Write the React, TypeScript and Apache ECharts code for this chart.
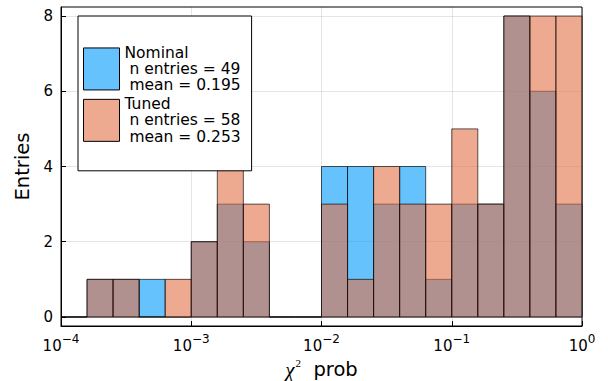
import React, { useEffect, useRef } from "react";
import * as echarts from "echarts";

// log10 bin edges (5 bins per decade, 1e-4 .. 1)
const binEdges = [-4, -3.8, -3.6, -3.4, -3.2, -3, -2.8, -2.6, -2.4, -2.2, -2, -1.8, -1.6, -1.4, -1.2, -1, -0.8, -0.6, -0.4, -0.2, 0];
const nominalCounts = [0, 1, 1, 1, 0, 2, 3, 2, 0, 0, 4, 4, 3, 4, 1, 3, 3, 8, 6, 3];
const tunedCounts = [0, 1, 1, 0, 1, 2, 4, 3, 0, 0, 3, 1, 4, 3, 3, 5, 3, 8, 8, 8];
const seriesNames = ["Nominal", "Tuned"];
const nEntries = [49, 58];
const means = ["0.195", "0.253"];
const xTicks = [-4, -3, -2, -1, 0];
const yTicks = [0, 2, 4, 6, 8];

const FONT = "DejaVu Sans";
const SERIF = "Liberation Serif";
const fills = ["rgba(0,154,250,0.6)", "rgba(227,111,71,0.6)"];

function toData(counts: number[]) {
  return counts.map((c, i) => [binEdges[i], binEdges[i + 1], c]);
}

export default function App() {
  const ref = useRef<HTMLDivElement>(null);
  useEffect(() => {
    if (!ref.current) return;
    const chart = echarts.init(ref.current, undefined, { renderer: "svg" });
    const renderItem = (fill: string) => (params: any, api: any) => {
      const p0 = api.coord([api.value(0), 0]);
      const p1 = api.coord([api.value(1), api.value(2)]);
      return {
        type: "rect",
        shape: { x: p0[0], y: p1[1], width: p1[0] - p0[0], height: p0[1] - p1[1] },
        style: { fill, stroke: "rgba(0,0,0,0.65)", lineWidth: 1 },
      };
    };
    const option: any = {
      animation: false,
      grid: {
        left: 61, top: 7, width: 521, height: 319,
        outerBoundsMode: "none", containLabel: false,
        show: true, borderColor: "#000", borderWidth: 1, backgroundColor: "transparent",
      },
      legend: {
        show: true, orient: "vertical", left: 78, top: 16,
        backgroundColor: "#fff", borderColor: "#000", borderWidth: 1,
        borderRadius: 0,
        padding: [28.5, 11, 26, 5], itemWidth: 36, itemHeight: 42, itemGap: 2.5,
        icon: "rect",
        textStyle: { fontSize: 15.5, lineHeight: 16.3, color: "#000", fontFamily: FONT },
        formatter: (name: string) => {
          const i = seriesNames.indexOf(name);
          return `${name}\n n entries = ${nEntries[i]}\n mean = ${means[i]}`;
        },
        data: seriesNames.map((n, i) => ({
          name: n,
          itemStyle: { color: fills[i], borderColor: "#000", borderWidth: 1 },
        })),
      },
      xAxis: {
        type: "value", min: xTicks[0], max: xTicks[xTicks.length - 1], interval: 1,
        axisLine: { show: true, onZero: false, lineStyle: { color: "#000", width: 1 } },
        axisTick: { show: true, inside: true, length: 5, lineStyle: { color: "#000" } },
        splitLine: { show: true, lineStyle: { color: "rgba(0,0,0,0.1)", width: 1 } },
        axisLabel: {
          margin: 7,
          formatter: (v: number) => `{b|10}{s|${v === 0 ? "0" : "−" + -v}}`,
          rich: {
            b: { fontSize: 15, fontFamily: FONT, color: "#000", padding: [5, 0, 0, 0] },
            s: { fontSize: 12, fontFamily: FONT, color: "#000", verticalAlign: "top" },
          },
        },
        name: "{c|χ}{s|2}{t|  prob}",
        nameLocation: "middle", nameGap: 28,
        nameTextStyle: {
          rich: {
            c: { fontSize: 21, fontFamily: SERIF, fontStyle: "italic", color: "#000", padding: [2, 1, 0, 0] },
            s: { fontSize: 11, fontFamily: SERIF, color: "#000", verticalAlign: "top" },
            t: { fontSize: 19.5, fontFamily: FONT, color: "#000" },
          },
        },
      },
      yAxis: {
        type: "value", min: -0.24, max: 8.24,
        axisLine: { show: true, onZero: false, lineStyle: { color: "#000", width: 1 } },
        axisTick: { show: true, inside: true, length: 5, lineStyle: { color: "#000" }, customValues: yTicks },
        splitLine: { show: true, lineStyle: { color: "rgba(0,0,0,0.1)", width: 1 } },
        axisLabel: { customValues: yTicks, fontSize: 15, fontFamily: FONT, color: "#000", margin: 8 },
        name: "Entries", nameLocation: "middle", nameGap: 26,
        nameTextStyle: { fontSize: 19.5, fontFamily: FONT, color: "#000" },
      },
      series: [
        {
          type: "custom", name: seriesNames[0], renderItem: renderItem(fills[0]),
          data: toData(nominalCounts), encode: { x: [0, 1], y: 2 },
          itemStyle: { color: fills[0] }, clip: false, z: 2,
        },
        {
          type: "custom", name: seriesNames[1], renderItem: renderItem(fills[1]),
          data: toData(tunedCounts), encode: { x: [0, 1], y: 2 },
          itemStyle: { color: fills[1] }, clip: false, z: 3,
        },
      ],
    };
    chart.setOption(option);
    return () => chart.dispose();
  }, []);
  return (
    <div
      ref={ref}
      style={{ position: "fixed", left: 0, top: 0, width: 608, height: 381, background: "#fff" }}
    />
  );
}
